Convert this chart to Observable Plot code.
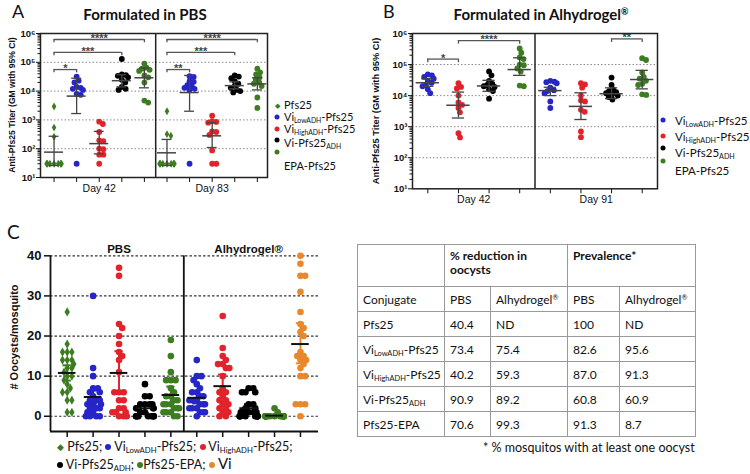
<!DOCTYPE html>
<html><head><meta charset="utf-8">
<script src="https://cdn.jsdelivr.net/npm/d3@7"></script>
<script src="https://cdn.jsdelivr.net/npm/@observablehq/plot@0.6"></script>
<style>
body{margin:0;background:#fff;}
#root{position:relative;width:750px;height:474px;overflow:hidden;font-family:Lato,"Open Sans",sans-serif;color:#111;}
#root svg{position:absolute;left:0;top:0;}
.abs{position:absolute;white-space:nowrap;line-height:1;}
.rot{transform:translate(-50%,-50%) rotate(-90deg);}
.ctr{transform:translate(-50%,-50%);}
sub{font-size:0.62em;vertical-align:-0.25em;line-height:0;}
sup{font-size:0.6em;vertical-align:0.5em;line-height:0;}
.dot{position:absolute;width:5px;height:5px;border-radius:50%;transform:translate(-50%,-50%);}
table{position:absolute;border-collapse:collapse;font-size:12px;table-layout:fixed;}
td{border:1.3px solid #999;padding:0 0 0 5px;vertical-align:middle;white-space:nowrap;}
</style></head><body><div id="root"></div>
<script>
// ---------------- DATA ----------------
const groupNames = ["Pfs25", "Vi<sub>LowADH</sub>-Pfs25", "Vi<sub>HighADH</sub>-Pfs25", "Vi-Pfs25<sub>ADH</sub>", "EPA-Pfs25"];
const groupColors = ["#3d7d22", "#2525c8", "#e2232b", "#000000", "#3d7d22"];
const viColor = "#e8882c";

// Panel A (PBS) anti-Pfs25 titers
const aDays = ["Day 42", "Day 83"];
const aD42Pfs25 = [2900, 540, 260, 30, 30, 30, 30, 30, 30, 30];
const aD42Low = [32000, 23000, 20000, 14000, 13000, 12000, 11000, 8000, 7400, 30];
const aD42High = [870, 720, 380, 195, 183, 100, 96, 62, 62, 30];
const aD42Adh = [130000, 38000, 36000, 34000, 30000, 25000, 20000, 14000, 12000, 11000];
const aD42Epa = [90000, 65000, 60000, 55000, 50000, 35000, 30000, 20000, 4700, 4000];
const aD83Pfs25 = [2000, 320, 280, 30, 30, 30, 30, 30, 30, 30];
const aD83Low = [33000, 31000, 22000, 21000, 16000, 15000, 13000, 12000, 11000, 30];
const aD83High = [1400, 900, 850, 800, 400, 380, 300, 87, 30, 30];
const aD83Adh = [35000, 32000, 28000, 22000, 18000, 15000, 13000, 11000, 10000, 9000];
const aD83Epa = [60000, 45000, 38000, 30000, 25000, 20000, 18000, 15000, 6000, 2600];
const aGM = [76, 6700, 150, 23000, 29000, 72, 8900, 280, 15500, 17800];
const aLo = [26, 1660, 66, 14000, 13000, 26, 2000, 110, 12000, 11000];
const aHi = [270, 28000, 400, 37000, 63000, 210, 35000, 800, 21000, 29000];
const aBrFrom = [0, 0, 0, 5, 5, 5];
const aBrTo = [1, 3, 4, 6, 8, 9];
const aBrY = [56000, 220000, 620000, 56000, 220000, 620000];
const aBrLabel = ["*", "***", "****", "**", "***", "****"];

// Panel B (Alhydrogel) anti-Pfs25 titers
const bDays = ["Day 42", "Day 91"];
const bD42Low = [48000, 45000, 40000, 35000, 30000, 26000, 22000, 20000, 16000, 12000];
const bD42High = [25000, 19000, 17000, 10000, 6000, 5000, 4000, 2900, 620, 450];
const bD42Adh = [60000, 45000, 30000, 24000, 22000, 20000, 19000, 16000, 14000, 8000];
const bD42Epa = [330000, 240000, 170000, 150000, 100000, 95000, 75000, 60000, 21000, 20000];
const bD91Low = [30000, 28000, 27000, 25000, 18000, 15000, 14000, 12000, 6500, 4000];
const bD91High = [25000, 23000, 18000, 10000, 7000, 6500, 3500, 3000, 700, 460];
const bD91Adh = [38000, 22000, 16000, 14000, 13000, 12000, 11000, 10000, 9000, 7500];
const bD91Epa = [160000, 140000, 55000, 40000, 35000, 30000, 24000, 22000, 11000, 10500];
const bGM = [26000, 4900, 20500, 69000, 14500, 4500, 11500, 33000];
const bLo = [20000, 1900, 13800, 45000, 10000, 1700, 8000, 16500];
const bHi = [35000, 13000, 31000, 165000, 18600, 12300, 17800, 65000];
const bBrFrom = [0, 1, 6];
const bBrTo = [1, 3, 7];
const bBrY = [150000, 590000, 670000];
const bBrLabel = ["*", "****", "**"];

// Panel C oocysts per mosquito
const cPanels = ["PBS", "Alhydrogel®"];
const cPbsPfs25 = [26, 18, 16, 16, 16, 14, 14, 14, 13, 12, 12, 11, 10, 10, 9, 8, 7, 6, 6, 4, 4, 1, 1];
const cPbsLow = [30, 12, 10, 7, 7, 6, 6, 5, 4, 4, 4, 3, 3, 3, 2, 2, 2, 1, 1, 0, 0, 0, 0];
const cPbsHigh = [37, 35, 23, 22, 20, 18, 16, 15, 14, 11, 6, 6, 6, 4, 4, 2, 2, 1, 1, 1, 0, 0, 0];
const cPbsAdh = [8, 5, 5, 3, 3, 3, 3, 2, 2, 2, 2, 2, 1, 1, 0, 0, 0, 0, 0, 0, 0, 0, 0];
const cPbsEpa = [19, 15, 11, 9, 9, 9, 7, 6, 5, 5, 4, 4, 3, 3, 3, 2, 2, 2, 1, 1, 1, 0, 0];
const cAlLow = [14, 10, 10, 9, 8, 7, 6, 6, 5, 5, 4, 4, 4, 3, 3, 3, 2, 2, 2, 1, 1, 1, 0];
const cAlHigh = [25, 17, 15, 14, 13, 13, 12, 12, 10, 7, 6, 6, 5, 4, 4, 3, 3, 2, 2, 1, 1, 0, 0];
const cAlAdh = [7, 7, 6, 6, 6, 3, 3, 2, 2, 1, 1, 1, 1, 1, 0, 0, 0, 0, 0, 0, 0, 0, 0];
const cAlEpa = [2, 1, 0, 0, 0, 0, 0, 0, 0, 0, 0, 0, 0, 0, 0, 0, 0, 0, 0, 0, 0, 0, 0];
const cAlVi = [40, 38, 35, 35, 31, 26, 23, 22, 21, 20, 16, 15, 15, 14, 14, 13, 12, 10, 10, 3, 3, 3, 0];
const cMean = [10.8, 4.8, 10.8, 2.0, 5.3, 4.6, 7.5, 2.0, 0.15, 18.0];
const cLo = [8.9, 3.2, 5.6, 0.9, 3.3, 3.2, 4.4, 1.1, 0, 13.2];
const cHi = [12.7, 6.4, 16.2, 3.0, 7.4, 6.0, 10.4, 3.0, 0.35, 23.2];

// Table
const tConjugates = ["Pfs25", "Vi<sub>LowADH</sub>-Pfs25", "Vi<sub>HighADH</sub>-Pfs25", "Vi-Pfs25<sub>ADH</sub>", "Pfs25-EPA"];
const tRedPbs = ["40.4", "73.4", "40.2", "90.9", "70.6"];
const tRedAlhy = ["ND", "75.4", "59.3", "89.2", "99.3"];
const tPrevPbs = ["100", "82.6", "87.0", "60.8", "91.3"];
const tPrevAlhy = ["ND", "95.6", "91.3", "60.9", "8.7"];

// ---------------- HELPERS ----------------
const W = 750, H = 474;
const root = document.getElementById("root");
const SUP = "⁰¹²³⁴⁵⁶⁷⁸⁹";
const supFmt = d => "10" + SUP[Math.round(Math.log10(d))];
const major = [10, 100, 1e3, 1e4, 1e5, 1e6];
const minor = d3.range(1, 6).flatMap(e => d3.range(2, 10).map(m => m * 10 ** e));

function swarm(vals, ypx, D, maxHalf) {
  const idx = d3.range(vals.length).sort((i, j) => ypx(vals[i]) - ypx(vals[j]) || i - j);
  const placed = [], out = new Array(vals.length);
  for (const i of idx) {
    const y = ypx(vals[i]);
    const near = placed.filter(p => Math.abs(p.y - y) < D);
    const cands = [0];
    for (const p of near) {
      const dx = Math.sqrt(D * D - (p.y - y) ** 2);
      cands.push(p.x + dx, p.x - dx);
    }
    cands.sort((a, b) => Math.abs(a) - Math.abs(b) || b - a);
    const x = cands.find(c => near.every(p => (p.x - c) ** 2 + (p.y - y) ** 2 >= D * D - 0.01));
    placed.push({x, y});
    out[i] = maxHalf * Math.tanh(x / maxHalf);
  }
  return out;
}
function points(series, ypx, unit, D, maxHalf, colorOf, symOf) {
  return series.flatMap((vals, gi) => {
    const offs = swarm(vals, ypx, D, maxHalf);
    return vals.map((v, k) => ({x: gi + offs[k] / unit, y: v, fill: colorOf(gi), sym: symOf(gi)}));
  });
}
function addHTML(html, style, cls = "abs") {
  const d = document.createElement("div");
  d.className = cls;
  d.innerHTML = html;
  Object.assign(d.style, style);
  root.appendChild(d);
  return d;
}
function titerPlot(cfg) {
  const {left, right, top, bottom, xdom, series, gm, lo, hi, colors, syms, brFrom, brTo, brY, brLabel, days, halfMean, halfCap} = cfg;
  const unit = (right - left) / (xdom[1] - xdom[0]);
  const ypx = d3.scaleLog([10, 1e6], [bottom, top]);
  const pts = points(series, v => ypx(v), unit, 4.6, 8, gi => colors[gi], gi => syms[gi]);
  const stats = gm.map((g, i) => ({x: i, gm: g, lo: lo[i], hi: hi[i]}));
  const br = brFrom.map((f, i) => ({x1: f, x2: brTo[i], y: brY[i], label: brLabel[i]}));
  const brEnds = br.flatMap(b => [{x: b.x1, y: b.y}, {x: b.x2, y: b.y}]);
  const n = series.length, half = n / 2;
  const dayPos = days.map((t, i) => ({t, x: i * half + (half - 1) / 2}));
  return Plot.plot({
    width: W, height: H,
    marginLeft: left, marginRight: W - right, marginTop: top, marginBottom: H - bottom,
    x: {domain: xdom, label: null},
    y: {type: "log", domain: [10, 1e6], label: null},
    color: {type: "identity"},
    style: {background: "transparent", fontFamily: "'Liberation Sans', Arial, sans-serif", overflow: "visible"},
    marks: [
      Plot.ruleY([100, 1e3, 1e4, 1e5], {stroke: "#8a8a8a", strokeDasharray: "1.5,2", strokeWidth: 1}),
      Plot.axisY({ticks: minor, tickSize: 2.5, tickFormat: () => "", label: null}),
      Plot.axisY({ticks: major, tickSize: 4, tickPadding: 1, tickFormat: supFmt, fontSize: 9.5, fontWeight: "bold", label: null}),
      Plot.axisX({ticks: d3.range(n), tickSize: 5, tickFormat: () => "", label: null}),
      Plot.text(dayPos, {x: "x", text: "t", frameAnchor: "bottom", dy: 14, fontSize: 10.5}),
      Plot.dot(pts.filter(p => p.sym === "circle"), {x: "x", y: "y", fill: "fill", r: 2.9}),
      Plot.dot(pts.filter(p => p.sym === "diamond"), {x: "x", y: "y", fill: "fill", r: 2.4, symbol: "diamond"}),
      Plot.ruleX(stats, {x: "x", y1: "lo", y2: "hi", stroke: "#444", strokeWidth: 1.3}),
      Plot.ruleY(stats, {x1: d => d.x - halfMean, x2: d => d.x + halfMean, y: "gm", stroke: "#444", strokeWidth: 1.5}),
      Plot.ruleY(stats, {x1: d => d.x - halfCap, x2: d => d.x + halfCap, y: "lo", stroke: "#444", strokeWidth: 1.3}),
      Plot.ruleY(stats, {x1: d => d.x - halfCap, x2: d => d.x + halfCap, y: "hi", stroke: "#444", strokeWidth: 1.3}),
      Plot.ruleY(br, {x1: "x1", x2: "x2", y: "y", stroke: "#555", strokeWidth: 1.3}),
      Plot.ruleX(brEnds, {x: "x", y1: "y", y2: d => d.y / 1.3, stroke: "#555", strokeWidth: 1.3}),
      Plot.text(br, {x: d => (d.x1 + d.x2) / 2, y: "y", text: "label", fontSize: 11, fontWeight: "bold", fill: "#444", dy: -1}),
      Plot.ruleX([(n - 1) / 2], {stroke: "#222", strokeWidth: 1.5}),
      Plot.frame({stroke: "#222", strokeWidth: 1.5})
    ]
  });
}

// ---------------- PANEL A ----------------
const aSeries = [aD42Pfs25, aD42Low, aD42High, aD42Adh, aD42Epa, aD83Pfs25, aD83Low, aD83High, aD83Adh, aD83Epa];
root.appendChild(titerPlot({
  left: 40, right: 267, top: 33, bottom: 177, xdom: [-0.6, 9.45],
  series: aSeries, gm: aGM, lo: aLo, hi: aHi,
  colors: d3.range(10).map(i => groupColors[i % 5]),
  syms: d3.range(10).map(i => (i % 5 === 0 ? "diamond" : "circle")),
  brFrom: aBrFrom, brTo: aBrTo, brY: aBrY, brLabel: aBrLabel, days: aDays,
  halfMean: 0.42, halfCap: 0.22
}));

// ---------------- PANEL B ----------------
const bSeries = [bD42Low, bD42High, bD42Adh, bD42Epa, bD91Low, bD91High, bD91Adh, bD91Epa];
root.appendChild(titerPlot({
  left: 412, right: 657, top: 33, bottom: 188.3, xdom: [-0.5, 7.5],
  series: bSeries, gm: bGM, lo: bLo, hi: bHi,
  colors: d3.range(8).map(i => groupColors[1 + (i % 4)]),
  syms: d3.range(8).map(() => "circle"),
  brFrom: bBrFrom, brTo: bBrTo, brY: bBrY, brLabel: bBrLabel, days: bDays,
  halfMean: 0.38, halfCap: 0.2
}));

// ---------------- PANEL C ----------------
{
  const left = 50, right = 318, top = 255.3, bottom = 431;
  const xdom = [-0.644, 9.696], ydom = [-3.8, 40];
  const unit = (right - left) / (xdom[1] - xdom[0]);
  const ypx = d3.scaleLinear(ydom, [bottom, top]);
  const cSeries = [cPbsPfs25, cPbsLow, cPbsHigh, cPbsAdh, cPbsEpa, cAlLow, cAlHigh, cAlAdh, cAlEpa, cAlVi];
  const cColors = [...groupColors, groupColors[1], groupColors[2], groupColors[3], groupColors[4], viColor];
  const pts = points(cSeries, v => ypx(v), unit, 5.2, 9, gi => cColors[gi], gi => (gi === 0 ? "diamond" : "circle"));
  const stats = cMean.map((m, i) => ({x: i, m, lo: cLo[i], hi: cHi[i], c: cColors[i]}));
  root.appendChild(Plot.plot({
    width: W, height: H,
    marginLeft: left, marginRight: W - right, marginTop: top, marginBottom: H - bottom,
    x: {domain: xdom, label: null},
    y: {domain: ydom, label: null},
    color: {type: "identity"},
    style: {background: "transparent", fontFamily: "'Liberation Sans', Arial, sans-serif", overflow: "visible"},
    marks: [
      Plot.ruleY([0, 10, 20, 30, 40], {stroke: "#333", strokeDasharray: "2.5,2", strokeWidth: 1.2}),
      Plot.axisY({ticks: [0, 10, 20, 30, 40], tickSize: 6, tickPadding: 3, fontSize: 13, fontWeight: "bold", label: null, strokeWidth: 1.5}),
      Plot.axisX({ticks: d3.range(10), tickSize: 6, tickFormat: () => "", label: null, strokeWidth: 1.5}),
      Plot.ruleX([xdom[0]], {stroke: "#111", strokeWidth: 1.8}),
      Plot.ruleY([ydom[0]], {stroke: "#111", strokeWidth: 1.8}),
      Plot.ruleX([4.5], {stroke: "#111", strokeWidth: 1.8}),
      Plot.dot(pts.filter(p => p.sym === "circle"), {x: "x", y: "y", fill: "fill", r: 3.3}),
      Plot.dot(pts.filter(p => p.sym === "diamond"), {x: "x", y: "y", fill: "fill", r: 2.8, symbol: "diamond"}),
      Plot.ruleX(stats, {x: "x", y1: "lo", y2: "hi", stroke: "c", strokeWidth: 2}),
      Plot.ruleY(stats, {x1: d => d.x - 0.16, x2: d => d.x + 0.16, y: "lo", stroke: "c", strokeWidth: 2}),
      Plot.ruleY(stats, {x1: d => d.x - 0.16, x2: d => d.x + 0.16, y: "hi", stroke: "c", strokeWidth: 2}),
      Plot.ruleY(stats, {x1: d => d.x - 0.34, x2: d => d.x + 0.34, y: "m", stroke: "#111", strokeWidth: 2}),
      Plot.text(cPanels, {x: (d, i) => i * 5 + 2, frameAnchor: "top", dy: -11, text: d => d, fontSize: 11.5, fontWeight: "bold"})
    ]
  }));
}

// ---------------- TEXT / LEGENDS ----------------
addHTML("A", {left: "12px", top: "2px", fontSize: "18px"});
addHTML("B", {left: "383px", top: "2px", fontSize: "18px"});
addHTML("C", {left: "7px", top: "222px", fontSize: "19px"});
addHTML("Formulated in PBS", {left: "145px", top: "14px", fontSize: "15px", fontWeight: "bold"}, "abs ctr");
addHTML("Formulated in Alhydrogel<sup>®</sup>", {left: "541px", top: "14px", fontSize: "15px", fontWeight: "bold"}, "abs ctr");
const axLab = {fontFamily: "'Liberation Sans', Arial, sans-serif", fontWeight: "bold"};
addHTML("Anti-Pfs25 Titer (GM with 95% CI)", {...axLab, left: "12px", top: "105px", fontSize: "8.6px"}, "abs rot");
addHTML("Anti-Pfs25 Titer (GM with 95% CI)", {...axLab, left: "377px", top: "111px", fontSize: "9.3px"}, "abs rot");
addHTML("# Oocysts/mosquito", {...axLab, left: "14px", top: "337px", fontSize: "11px"}, "abs rot");

// legend A
const legFont = "11px";
const aLegY = [105, 117, 128.5, 140, 151.5];
const aLegTextY = [105, 117, 129, 143, 165.5];
groupNames.forEach((name, i) => {
  if (i === 0) addHTML("◆", {left: "277px", top: aLegY[i] + "px", fontSize: "7px", color: groupColors[i]}, "abs ctr");
  else addHTML("", {left: "277px", top: aLegY[i] + "px", background: groupColors[i]}, "dot");
  addHTML(name, {left: "284px", top: (aLegTextY[i] - 6) + "px", fontSize: legFont});
});
// legend B
const bLegY = [120, 136, 148, 160.5];
const bLegTextY = [120.5, 136.5, 152.5, 170.5];
groupNames.slice(1).forEach((name, i) => {
  addHTML("", {left: "663px", top: bLegY[i] + "px", background: groupColors[i + 1]}, "dot");
  addHTML(name, {left: "675px", top: (bLegTextY[i] - 6) + "px", fontSize: "11.5px"});
});
// legend C
const cLegNames = ["Pfs25;", "Vi<sub>LowADH</sub>-Pfs25;", "Vi<sub>HighADH</sub>-Pfs25;", "Vi-Pfs25<sub>ADH</sub>;", "Pfs25-EPA;", "<span style='font-size:15px'>Vi</span>"];
const cLegColors = [groupColors[0], groupColors[1], groupColors[2], groupColors[3], groupColors[4], viColor];
const mk = (i) => (i === 0
  ? `<span style="color:${cLegColors[i]};font-size:9px;vertical-align:1px">◆</span>`
  : `<span style="display:inline-block;width:6px;height:6px;border-radius:50%;background:${cLegColors[i]};vertical-align:1px"></span>`);
addHTML([0, 1, 2].map(i => `${mk(i)} ${cLegNames[i]}`).join(" "), {left: "57px", top: "441px", fontSize: "12.5px"});
addHTML([3, 4, 5].map(i => `${mk(i)}${i === 4 ? "" : " "}${cLegNames[i]}`).join(" "), {left: "57px", top: "456px", fontSize: "12.5px"});

// table
{
  const tbl = document.createElement("table");
  Object.assign(tbl.style, {left: "357px", top: "244px", width: "338px"});
  const colW = [87, 46, 77, 52, 76];
  tbl.innerHTML = "<colgroup>" + colW.map(w => `<col style="width:${w}px">`).join("") + "</colgroup>" +
    `<tr style="height:42px"><td></td><td colspan="2" style="vertical-align:top;padding-top:4px;line-height:1.2;font-weight:bold">% reduction in<br>oocysts</td><td colspan="2" style="vertical-align:top;padding-top:4px;line-height:1.2;font-weight:bold">Prevalence*</td></tr>` +
    `<tr style="height:25px"><td>Conjugate</td><td>PBS</td><td>Alhydrogel<sup>®</sup></td><td>PBS</td><td>Alhydrogel<sup>®</sup></td></tr>` +
    tConjugates.map((c, i) => `<tr style="height:25px"><td>${c}</td><td>${tRedPbs[i]}</td><td>${tRedAlhy[i]}</td><td>${tPrevPbs[i]}</td><td>${tPrevAlhy[i]}</td></tr>`).join("");
  root.appendChild(tbl);
  addHTML("* % mosquitos with at least one oocyst", {left: "483px", top: "442px", fontSize: "12.5px"});
}
</script></body></html>
